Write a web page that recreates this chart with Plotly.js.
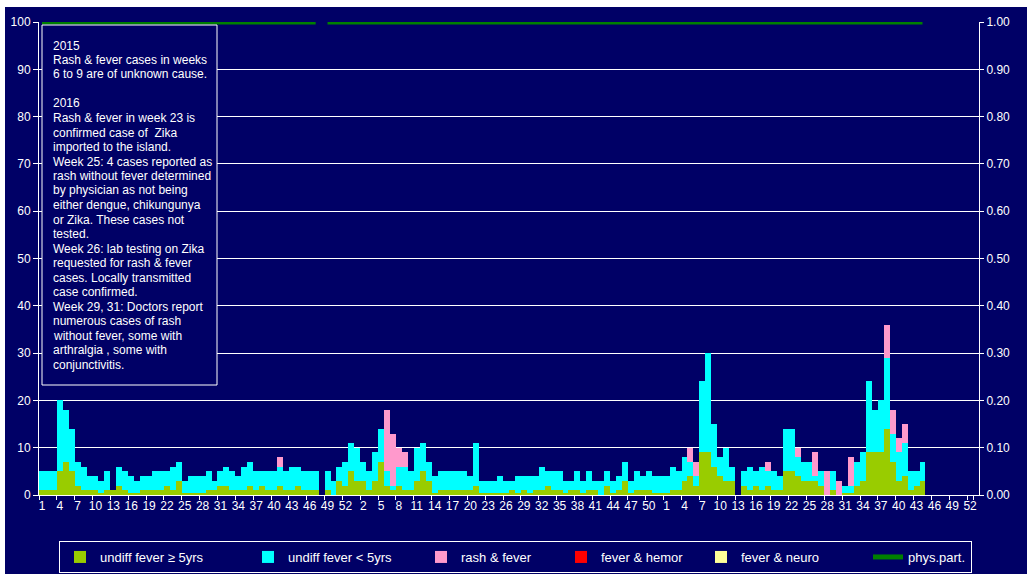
<!DOCTYPE html>
<html>
<head>
<meta charset="utf-8">
<script src="https://cdn.plot.ly/plotly-3.0.1.min.js"></script>
<style>html,body{margin:0;padding:0;background:#fff;}#chart{width:1027px;height:574px;}</style>
</head>
<body>
<div id="chart"></div>
<script>
// Epi years and weeks on the category axis (last year carries one empty trailing slot)
const years = [2014, 2015, 2016];
const weeksPerYear = [53, 52, 53];

// undiff fever >= 5yrs
const feverGe5 = [
1,1,1,5,7,5,2,1,1,1,
0.5,1,1,2,1,0.5,0.5,1,1,1,
1,2,1,3,0.5,0.5,0.5,0.5,1,1,
2,2,1,1,1,2,1,2,1,1,
2,1,1,2,1,1,1,0,1,0,
3,2,5,3,3,1,3,7,2,1,
2,1,1,3,5,3,0.5,1,1,1,
1,1,1,2,0.5,0.5,0.5,0.5,0.5,1,
0.5,1,0.5,1,1,2,1,1,0.5,1,
1,0.5,1,1,0,2,0.5,1,3,0.5,
1,1,1,0.5,0.5,0.5,1,1,3,4,
2,9,9,6,4,3,3,0,2,1,
2,1,2,1,1,5,5,4,3,3,
3,2,0,1,0,0.5,0.5,2,3,9,
9,9,14,7,3,4,1,2,3,null,
null,null,null,null,null,null,null,null
];
// undiff fever < 5yrs
const feverLt5 = [
4,4,4,15,11,9,5,5,3,3,
2.5,4,0,4,4,3.5,2.5,3,3,4,
4,3,5,4,2.5,3.5,3.5,3.5,4,2,
3,4,4,3,5,5,4,3,4,4,
4,4,5,4,4,4,4,0,4,3,
3,5,6,7,4,4,6,7,3,1,
4,5,4,7,6,4,3.5,4,4,4,
4,4,3,9,2.5,2.5,2.5,3.5,2.5,2,
3.5,3,3.5,3,5,3,4,4,2.5,2,
4,2.5,4,2,3,3,2.5,3,4,2.5,
4,3,4,3.5,3.5,3.5,5,4,5,3,
2,15,21,9,4,7,3,0,3,5,
3,5,3,4,3,9,9,4,4,4,
1,3,0,4,0,1.5,1.5,5,6,15,
9,11,15,6,6,7,4,3,4,null,
null,null,null,null,null,null,null,null
];
// rash & fever
const rashFever = [
0,0,0,0,0,0,0,0,0,0,
0,0,0,0,0,0,0,0,0,0,
0,0,0,0,0,0,0,0,0,0,
0,0,0,0,0,0,0,0,0,0,
2,0,0,0,0,0,0,0,0,0,
0,0,0,0,0,0,0,0,13,11,
4,3,0,0,0,0,0,0,0,0,
0,0,0,0,0,0,0,0,0,0,
0,0,0,0,0,0,0,0,0,0,
0,0,0,0,0,0,0,0,0,0,
0,0,0,0,0,0,0,0,0,3,
3,0,0,0,0,0,0,0,0,0,
0,0,2,0,0,0,0,2,0,0,
5,0,5,0,3,0,6,0,0,0,
0,0,7,5,3,4,0,0,0,null,
null,null,null,null,null,null,null,null
];
// fever & hemor
const feverHemor = [
0,0,0,0,0,0,0,0,0,0, 0,0,0,0,0,0,0,0,0,0, 0,0,0,0,0,0,0,0,0,0,
0,0,0,0,0,0,0,0,0,0, 0,0,0,0,0,0,0,0,0,0, 0,0,0,0,0,0,0,0,0,0,
0,0,0,0,0,0,0,0,0,0, 0,0,0,0,0,0,0,0,0,0, 0,0,0,0,0,0,0,0,0,0,
0,0,0,0,0,0,0,0,0,0, 0,0,0,0,0,0,0,0,0,0, 0,0,0,0,0,0,0,0,0,0,
0,0,0,0,0,0,0,0,0,0, 0,0,0,0,0,0,0,0,0,0, 0,0,0,0,0,0,0,0,0,null,
null,null,null,null,null,null,null,null
];
// fever & neuro
const feverNeuro = [
0,0,0,0,0,0,0,0,0,0, 0,0,0,0,0,0,0,0,0,0, 0,0,0,0,0,0,0,0,0,0,
0,0,0,0,0,0,0,0,0,0, 0,0,0,0,0,0,0,0,0,0, 0,0,0,0,0,0,0,0,0,0,
0,0,0,0,0,0,0,0,0,0, 0,0,0,0,0,0,0,0,0,0, 0,0,0,0,0,0,0,0,0,0,
0,0,0,0,0,0,0,0,0,0, 0,0,0,0,0,0,0,0,0,0, 0,0,0,0,0,0,0,0,0,0,
0,0,0,0,0,0,0,0,0,0, 0,0,0,0,0,0,0,0,0,0, 0,0,0,0,0,0,0,0,0,null,
null,null,null,null,null,null,null,null
];
// physician participation (right axis)
const physPart = [
1,1,1,1,1,1,1,1,1,1, 1,1,1,1,1,1,1,1,1,1, 1,1,1,1,1,1,1,1,1,1,
1,1,1,1,1,1,1,1,1,1, 1,1,1,1,1,1,1,null,1,1, 1,1,1,1,1,1,1,1,1,1,
1,1,1,1,1,1,1,1,1,1, 1,1,1,1,1,1,1,1,1,1, 1,1,1,1,1,1,1,1,1,1,
1,1,1,1,1,1,1,1,1,1, 1,1,1,1,1,1,1,1,1,1, 1,1,1,1,1,1,1,1,1,1,
1,1,1,1,1,1,1,1,1,1, 1,1,1,1,1,1,1,1,1,1, 1,1,1,1,1,1,1,1,1,null,
null,null,null,null,null,null,null,null
];

const seriesNames = ['undiff fever \u2265 5yrs', 'undiff fever < 5yrs', 'rash & fever', 'fever & hemor', 'fever & neuro', 'phys.part.'];
const seriesColors = ['#99CC00', '#00FFFF', '#FF99CC', '#FF0000', '#FFFF99', '#008000'];
const legendWidths = [143, 128, 95, 95, 122, null];

const noteLines = [
'2015',
'Rash & fever cases in weeks',
'6 to 9 are of unknown cause.',
'',
'2016',
'Rash & fever in week 23 is',
'confirmed case of \u00a0Zika',
'imported to the island.',
'Week 25: 4 cases reported as',
'rash without fever determined',
'by physician as not being',
'either dengue, chikungunya',
'or Zika. These cases not',
'tested.',
'Week 26: lab testing on Zika',
'requested for rash & fever',
'cases. Locally transmitted',
'case confirmed.',
'Week 29, 31: Doctors report',
'numerous cases of rash',
'without fever, some with',
'arthralgia , some with',
'conjunctivitis.'
];

// category axis: one slot per epi week
const categories = [];
const weekLabels = [];
years.forEach(function (yr, k) {
  for (let w = 1; w <= weeksPerYear[k]; w++) {
    categories.push(yr + '-W' + w);
    weekLabels.push(String(w));
  }
});
const tickVals = categories.filter(function (c, i) { return i % 3 === 0; });
const tickText = weekLabels.filter(function (c, i) { return i % 3 === 0; });

const NAVY = '#000066';
const FONT = 'Arial, "Liberation Sans", sans-serif';
const M = {l: 39, r: 48, t: 22, b: 79};
const W = 1027, H = 574;
const PW = W - M.l - M.r, PH = H - M.t - M.b;
function px2x(px) { return (px - M.l) / PW; }
function px2y(py) { return (H - M.b - py) / PH; }

const barSeries = [feverGe5, feverLt5, rashFever, feverHemor, feverNeuro];
const traces = barSeries.map(function (vals, k) {
  return {
    type: 'bar', x: categories, y: vals, name: seriesNames[k],
    marker: {color: seriesColors[k], line: {width: 0}},
    legendwidth: legendWidths[k],
    hoverinfo: 'skip'
  };
});
traces.push({
  type: 'scatter', mode: 'lines', x: categories, y: physPart, yaxis: 'y2',
  name: seriesNames[5], line: {color: seriesColors[5], width: 5},
  connectgaps: false, hoverinfo: 'skip'
});

// note box: one annotation per text line (fixed line pitch)
const annotations = [];
noteLines.forEach(function (line, k) {
  if (!line) return;
  const baseline = 48.5 + 14.5 * k;
  annotations.push({
    xref: 'paper', yref: 'paper', x: px2x(51.5), y: px2y(baseline - 11),
    xanchor: 'left', yanchor: 'top', align: 'left', showarrow: false,
    text: line, borderpad: 0,
    font: {family: FONT, size: 12, color: '#FFFFFF'}
  });
});

const layout = {
  width: W, height: H,
  margin: {l: M.l, r: M.r, t: M.t, b: M.b, pad: 0, autoexpand: false},
  paper_bgcolor: NAVY, plot_bgcolor: NAVY,
  barmode: 'stack', bargap: 0,
  font: {family: FONT, size: 12, color: '#FFFFFF'},
  showlegend: true,
  legend: {
    orientation: 'h', x: px2x(59), y: px2y(541), xanchor: 'left', yanchor: 'top',
    bgcolor: NAVY, bordercolor: '#FFFFFF', borderwidth: 1,
    font: {family: FONT, size: 13, color: '#FFFFFF'},
    traceorder: 'normal'
  },
  xaxis: {
    type: 'category', categoryorder: 'array', categoryarray: categories,
    range: [-0.5, categories.length - 0.5],
    tickmode: 'array', tickvals: tickVals, ticktext: tickText,
    tickson: 'boundaries', ticks: 'outside', ticklen: 4, tickcolor: '#FFFFFF',
    showline: true, linecolor: '#FFFFFF', linewidth: 1, showgrid: false, zeroline: false,
    tickangle: 0, tickfont: {family: FONT, size: 12, color: '#FFFFFF'}, fixedrange: true
  },
  yaxis: {
    range: [0, 100], tick0: 0, dtick: 10, showgrid: true, gridcolor: '#FFFFFF', gridwidth: 1,
    ticks: 'outside', ticklen: 5, tickcolor: '#FFFFFF', showline: true, linecolor: '#FFFFFF',
    zeroline: false, tickfont: {family: FONT, size: 12, color: '#FFFFFF'}, fixedrange: true
  },
  yaxis2: {
    overlaying: 'y', side: 'right', range: [0, 1], tick0: 0, dtick: 0.1, tickformat: '.2f',
    showgrid: false, ticks: 'outside', ticklen: 4, tickcolor: '#FFFFFF', showline: true,
    linecolor: '#FFFFFF', zeroline: false, tickfont: {family: FONT, size: 12, color: '#FFFFFF'},
    fixedrange: true
  },
  annotations: annotations,
  shapes: [
    // note box
    {type: 'rect', xref: 'paper', yref: 'paper', x0: px2x(42), x1: px2x(217), y0: px2y(385), y1: px2y(25),
     fillcolor: NAVY, line: {color: '#FFFFFF', width: 1}, layer: 'above'},
    // white page edges
    {type: 'rect', xref: 'paper', yref: 'paper', x0: px2x(-5), x1: px2x(W + 5), y0: px2y(7), y1: px2y(-5),
     fillcolor: '#FFFFFF', line: {width: 0}, layer: 'below'},
    {type: 'rect', xref: 'paper', yref: 'paper', x0: px2x(-5), x1: px2x(5), y0: px2y(H + 5), y1: px2y(-5),
     fillcolor: '#FFFFFF', line: {width: 0}, layer: 'below'}
  ]
};

Plotly.newPlot('chart', traces, layout, {displayModeBar: false, staticPlot: true});
</script>
</body>
</html>
